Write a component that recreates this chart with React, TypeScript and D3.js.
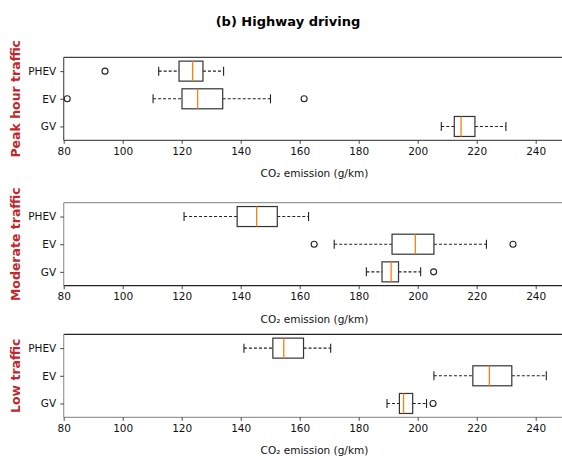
import * as d3 from "d3";
import { useEffect, useRef } from "react";

// categories and panels
const vehicles = ["PHEV", "EV", "GV"];
const panelNames = ["Peak hour traffic", "Moderate traffic", "Low traffic"];
const xTicks = [80, 100, 120, 140, 160, 180, 200, 220, 240];

// box stats per vehicle: [whisker low, q1, median, q3, whisker high]
const peakStats = [
  [112.2, 119.1, 123.7, 127.2, 134.2],
  [110.3, 120.1, 125.4, 133.9, 150.1],
  [208.0, 212.4, 214.7, 219.4, 229.9],
];
const peakOutliers = [[94], [81.2, 161.5], []];

const moderateStats = [
  [120.8, 138.8, 145.4, 152.4, 163.0],
  [171.7, 191.3, 199.2, 205.5, 223.3],
  [182.6, 187.9, 191.0, 193.5, 201.0],
];
const moderateOutliers = [[], [164.9, 232.3], [205.4]];

const lowStats = [
  [141.1, 150.9, 154.6, 161.3, 170.5],
  [205.5, 218.7, 224.3, 231.9, 243.6],
  [189.6, 193.8, 195.2, 198.3, 203.0],
];
const lowOutliers = [[], [], [205.2]];

const allStats = [peakStats, moderateStats, lowStats];
const allOutliers = [peakOutliers, moderateOutliers, lowOutliers];

export default function App() {
  const svgRef = useRef(null);

  const width = 562,
    height = 456;
  const left = 63.7,
    right = 565.2,
    panelHeight = 83;
  const panelTops = [57.3, 202.7, 334.3];
  const spineColors = [
    { top: "#444", left: "#555", bottom: "#555" },
    { top: "#999", left: "#999", bottom: "#222" },
    { top: "#222", left: "#999", bottom: "#999" },
  ];
  const font = "'DejaVu Sans', sans-serif";

  useEffect(() => {
    const svg = d3.select(svgRef.current);
    svg.selectAll("*").remove();

    const x = d3.scaleLinear().domain([80, 250]).range([left, right]);

    svg
      .append("text")
      .attr("x", 288)
      .attr("y", 21)
      .attr("text-anchor", "middle")
      .attr("dominant-baseline", "central")
      .style("font-family", font)
      .style("font-size", "13px")
      .style("font-weight", "bold")
      .text("(b) Highway driving");

    panelTops.forEach((top, p) => {
      const bottom = top + panelHeight;
      const y = d3.scalePoint().domain(vehicles).range([top, bottom]).padding(0.5);
      const g = svg.append("g");
      const half = 10;

      // spines
      const sc = spineColors[p];
      g.append("line").attr("x1", left).attr("x2", right).attr("y1", top).attr("y2", top)
        .attr("stroke", sc.top).attr("stroke-width", 1.2);
      g.append("line").attr("x1", left).attr("x2", right).attr("y1", bottom).attr("y2", bottom)
        .attr("stroke", sc.bottom).attr("stroke-width", 1.2);
      g.append("line").attr("x1", left).attr("x2", left).attr("y1", top).attr("y2", bottom)
        .attr("stroke", sc.left).attr("stroke-width", 1.2);

      // x axis
      const xAxis = g
        .append("g")
        .attr("transform", `translate(0,${bottom})`)
        .call(d3.axisBottom(x).tickValues(xTicks).tickSize(3.5).tickSizeOuter(0).tickPadding(3.5));
      xAxis.select(".domain").remove();
      xAxis.selectAll("line").attr("stroke", "#333").attr("stroke-width", 0.9);
      xAxis.selectAll("text")
        .attr("fill", "#111")
        .style("font-family", font)
        .style("font-size", "10.5px");

      // y axis
      const yAxis = g
        .append("g")
        .attr("transform", `translate(${left},0)`)
        .call(d3.axisLeft(y).tickSize(3.5).tickSizeOuter(0).tickPadding(4));
      yAxis.select(".domain").remove();
      yAxis.selectAll("line").attr("stroke", "#333").attr("stroke-width", 0.9);
      yAxis.selectAll("text")
        .attr("fill", "#111")
        .style("font-family", font)
        .style("font-size", "10.5px");

      // x label
      g.append("text")
        .attr("x", (left + right) / 2)
        .attr("y", bottom + 33)
        .attr("text-anchor", "middle")
        .attr("dominant-baseline", "central")
        .style("font-family", font)
        .style("font-size", "10.5px")
        .attr("fill", "#111")
        .text("CO₂ emission (g/km)");

      // panel label
      g.append("text")
        .attr("transform", `translate(15,${(top + bottom) / 2}) rotate(-90)`)
        .attr("text-anchor", "middle")
        .attr("dominant-baseline", "central")
        .style("font-family", font)
        .style("font-size", "12.5px")
        .style("font-weight", "bold")
        .attr("fill", "#c0282d")
        .text(panelNames[p]);

      const stats = allStats[p];
      const outliers = allOutliers[p];

      const boxes = g
        .selectAll(".box")
        .data(vehicles.map((v, i) => ({ v, s: stats[i], o: outliers[i] })))
        .enter()
        .append("g")
        .attr("class", "box");

      // whiskers
      boxes.append("line")
        .attr("x1", (d) => x(d.s[0])).attr("x2", (d) => x(d.s[1]))
        .attr("y1", (d) => y(d.v)).attr("y2", (d) => y(d.v))
        .attr("stroke", "#222").attr("stroke-width", 1.1).attr("stroke-dasharray", "3,2");
      boxes.append("line")
        .attr("x1", (d) => x(d.s[3])).attr("x2", (d) => x(d.s[4]))
        .attr("y1", (d) => y(d.v)).attr("y2", (d) => y(d.v))
        .attr("stroke", "#222").attr("stroke-width", 1.1).attr("stroke-dasharray", "3,2");
      // caps
      [0, 4].forEach((k) => {
        boxes.append("line")
          .attr("x1", (d) => x(d.s[k])).attr("x2", (d) => x(d.s[k]))
          .attr("y1", (d) => y(d.v) - 4.5).attr("y2", (d) => y(d.v) + 4.5)
          .attr("stroke", "#222").attr("stroke-width", 1.1);
      });
      // box
      boxes.append("rect")
        .attr("x", (d) => x(d.s[1]))
        .attr("width", (d) => x(d.s[3]) - x(d.s[1]))
        .attr("y", (d) => y(d.v) - half)
        .attr("height", half * 2)
        .attr("fill", "none")
        .attr("stroke", "#333")
        .attr("stroke-width", 1.2);
      // median
      boxes.append("line")
        .attr("x1", (d) => x(d.s[2])).attr("x2", (d) => x(d.s[2]))
        .attr("y1", (d) => y(d.v) - half).attr("y2", (d) => y(d.v) + half)
        .attr("stroke", "#ff7f0e").attr("stroke-width", 1.3);
      // fliers
      boxes.each(function (d) {
        d3.select(this)
          .selectAll("circle")
          .data(d.o)
          .enter()
          .append("circle")
          .attr("cx", (o) => x(o))
          .attr("cy", y(d.v))
          .attr("r", 3)
          .attr("fill", "none")
          .attr("stroke", "#222")
          .attr("stroke-width", 1.1);
      });
    });
  }, []);

  return (
    <svg
      ref={svgRef}
      width={width}
      height={height}
      style={{ position: "absolute", left: 0, top: 0, background: "#fff" }}
    />
  );
}
